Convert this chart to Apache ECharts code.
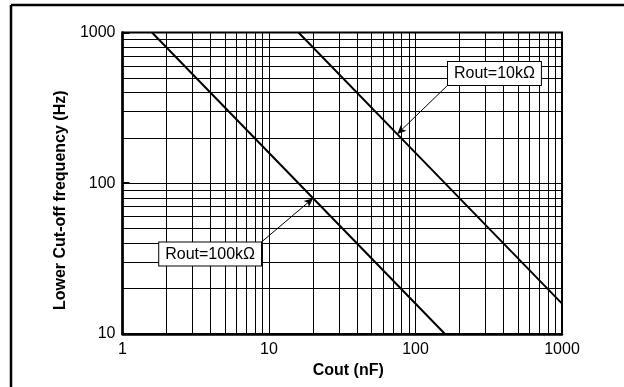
<!DOCTYPE html>
<html>
<head>
<meta charset="utf-8">
<script src="https://cdn.jsdelivr.net/npm/echarts@6/dist/echarts.min.js"></script>
<style>html,body{margin:0;padding:0;background:#fff}#c{width:624px;height:387px}</style>
</head>
<body>
<div id="c"></div>
<script>
// Data
var xTickLabels = ['1', '10', '100', '1000'];
var yTickLabels = ['10', '100', '1000'];
var xGridValues = [1,2,3,4,5,6,7,8,9,10,20,30,40,50,60,70,80,90,100,200,300,400,500,600,700,800,900,1000];
var yGridValues = [10,20,30,40,50,60,70,80,90,100,200,300,400,500,600,700,800,900,1000];
var rout100kC = [1.59, 20, 159];
var rout100kF = [1000, 79.5, 10];
var rout10kC = [15.9, 100, 1000];
var rout10kF = [1000, 159, 15.9];
var annotText = ['Rout=100k\u03A9', 'Rout=10k\u03A9'];
var annotBoxC = [8.82, 166.7];
var annotBoxF = [40.5, 449];
var annotTipC = [20, 75];
var annotTipF = [79.5, 212];

var font = 'Liberation Sans, Arial, Helvetica, sans-serif';
function pairs(a, b) { return a.map(function (v, i) { return [v, b[i]]; }); }

var gridMarks = xGridValues.map(function (v) { return { xAxis: v }; })
  .concat(yGridValues.map(function (v) { return { yAxis: v }; }));

function annot(i, align, vAlign) {
  return {
    markPoint: {
      symbol: 'circle', symbolSize: 0, silent: true,
      data: [{ coord: [annotBoxC[i], annotBoxF[i]] }],
      label: {
        show: true, formatter: annotText[i], position: [0, 0],
        align: align, verticalAlign: vAlign,
        color: '#000', fontFamily: font, fontSize: 16,
        backgroundColor: '#fff', borderColor: '#000', borderWidth: 1,
        padding: [4, 6, 3, 6]
      }
    },
    markLineArrow: {
      silent: true, symbol: ['none', 'arrow'], symbolSize: [6, 9],
      lineStyle: { color: '#000', width: 1, type: 'solid' },
      label: { show: false },
      data: [[{ coord: [annotBoxC[i], annotBoxF[i]] }, { coord: [annotTipC[i], annotTipF[i]] }]]
    }
  };
}
var a0 = annot(0, 'right', 'top');
var a1 = annot(1, 'left', 'bottom');

var chart = echarts.init(document.getElementById('c'), null, { renderer: 'canvas' });
chart.setOption({
  animation: false,
  backgroundColor: '#fff',
  grid: { left: 122.5, top: 32.5, right: 62, bottom: 53, show: true, borderColor: '#000', borderWidth: 2, backgroundColor: 'transparent' },
  xAxis: {
    type: 'log', logBase: 10, min: 1, max: 1000,
    name: 'Cout (nF)', nameLocation: 'middle', nameGap: 28,
    nameTextStyle: { fontFamily: font, fontSize: 16, fontWeight: 'bold', color: '#000', padding: [0, 0, 0, 12] },
    axisLine: { lineStyle: { color: '#000', width: 2.5 } },
    axisTick: { show: false },
    splitLine: { show: false },
    axisLabel: { fontFamily: font, fontSize: 16, color: '#000', margin: 8,
      formatter: function (v) { var s = String(Math.round(v)); return xTickLabels.indexOf(s) >= 0 ? s : ''; } }
  },
  yAxis: {
    type: 'log', logBase: 10, min: 10, max: 1000,
    name: 'Lower Cut-off frequency (Hz)', nameLocation: 'middle', nameGap: 44,
    nameTextStyle: { fontFamily: font, fontSize: 16, fontWeight: 'bold', color: '#000', padding: [0, 34, 0, 0] },
    axisLine: { lineStyle: { color: '#000', width: 2.5 } },
    axisTick: { show: true, inside: true, length: 7, lineStyle: { color: '#000', width: 2 } },
    splitLine: { show: false },
    axisLabel: { fontFamily: font, fontSize: 16, color: '#000', margin: 7,
      formatter: function (v) { var s = String(Math.round(v)); return yTickLabels.indexOf(s) >= 0 ? s : ''; } }
  },
  graphic: [
    { type: 'line', shape: { x1: 11, y1: 5, x2: 624, y2: 5 }, style: { stroke: '#000', lineWidth: 2.5 }, silent: true },
    { type: 'line', shape: { x1: 11, y1: 5, x2: 11, y2: 387 }, style: { stroke: '#000', lineWidth: 2.5 }, silent: true }
  ],
  series: [
    {
      name: 'grid', type: 'line', data: [], silent: true,
      markLine: { silent: true, symbol: ['none', 'none'], label: { show: false },
        lineStyle: { color: '#000', width: 1, type: 'solid' }, data: gridMarks }
    },
    {
      name: 'Rout=100k', type: 'line', data: pairs(rout100kC, rout100kF), showSymbol: false, silent: true,
      lineStyle: { color: '#000', width: 2 }, z: 3,
      markLine: a0.markLineArrow, markPoint: a0.markPoint
    },
    {
      name: 'Rout=10k', type: 'line', data: pairs(rout10kC, rout10kF), showSymbol: false, silent: true,
      lineStyle: { color: '#000', width: 2 }, z: 3,
      markLine: a1.markLineArrow, markPoint: a1.markPoint
    }
  ]
});
</script>
</body>
</html>
